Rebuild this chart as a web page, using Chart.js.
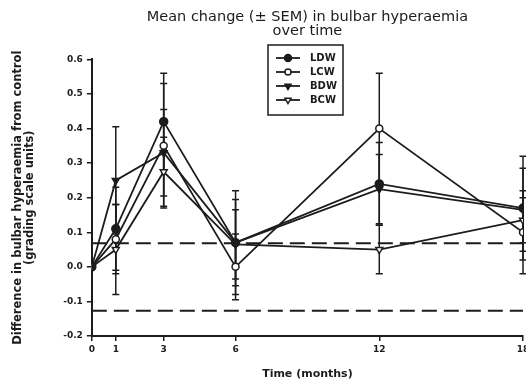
<!DOCTYPE html>
<html>
<head>
<meta charset="utf-8">
<script src="https://cdn.jsdelivr.net/npm/chart.js@4.4.0/dist/chart.umd.min.js"></script>
<style>
  html, body { margin: 0; padding: 0; background: #fff; overflow: hidden; }
  #c { display: block; }
</style>
</head>
<body>
<canvas id="c" width="540" height="383"></canvas>
<script>
// Follow-up times (months) and axis ticks
const months = [0, 1, 3, 6, 12, 18];
const xTicks = [0, 1, 3, 6, 12, 18];
const yMin = -0.2, yMax = 0.6, yStep = 0.1;

// Mean change from control per group, with SEM
const seriesNames = ['LDW', 'LCW', 'BDW', 'BCW'];
const ldw    = [0, 0.11, 0.42, 0.07, 0.24, 0.17];
const ldwSem = [0, 0.12, 0.14, 0.15, 0.12, 0.15];
const lcw    = [0, 0.08, 0.35, 0.00, 0.40, 0.10];
const lcwSem = [0, 0.10, 0.18, 0.095, 0.16, 0.12];
const bdw    = [0, 0.25, 0.33, 0.07, 0.225, 0.165];
const bdwSem = [0, 0.155, 0.125, 0.125, 0.10, 0.12];
const bcw    = [0, 0.05, 0.275, 0.065, 0.05, 0.135];
const bcwSem = [0, 0.13, 0.10, 0.10, 0.07, 0.065];

// Horizontal dashed reference levels
const upperRef = 0.068;
const lowerRef = -0.127;

const INK = '#1c1c1c';
const FACE = '"DejaVu Sans", Verdana, sans-serif';
const toPts = vals => months.map((m, i) => ({ x: m, y: vals[i] }));

function groupSet(label, vals, sem, style, filled) {
  return {
    label, data: toPts(vals), sem,
    borderColor: INK, borderWidth: 1.8,
    pointStyle: style, pointRotation: style === 'triangle' ? 180 : 0,
    pointRadius: style === 'triangle' ? 4 : (filled ? 4 : 3.5),
    pointBorderWidth: 1.5,
    pointBorderColor: INK,
    pointBackgroundColor: filled ? INK : '#fff',
    showLine: true, tension: 0, order: 1
  };
}
function refSet(level) {
  return {
    label: '', isRef: true,
    data: [{ x: months[0], y: level }, { x: months[months.length - 1], y: level }],
    borderColor: INK, borderWidth: 2, borderDash: [15, 7],
    pointRadius: 0, showLine: true, order: 2
  };
}

// SEM whiskers, drawn beneath the lines and markers
const errorBars = {
  id: 'errorBars',
  beforeDatasetsDraw(chart) {
    const { ctx, scales: { x, y } } = chart;
    ctx.save();
    ctx.strokeStyle = INK;
    ctx.lineWidth = 1.5;
    chart.data.datasets.forEach(ds => {
      if (!ds.sem) return;
      ds.data.forEach((p, i) => {
        const s = ds.sem[i];
        if (!s) return;
        const px = x.getPixelForValue(p.x);
        const top = y.getPixelForValue(p.y + s);
        const bot = y.getPixelForValue(p.y - s);
        ctx.beginPath();
        ctx.moveTo(px, top); ctx.lineTo(px, bot);
        ctx.moveTo(px - 3.5, top); ctx.lineTo(px + 3.5, top);
        ctx.moveTo(px - 3.5, bot); ctx.lineTo(px + 3.5, bot);
        ctx.stroke();
      });
    });
    ctx.restore();
  }
};

// Boxed key placed inside the plot
const boxedKey = {
  id: 'boxedKey',
  afterDraw(chart) {
    const { ctx } = chart;
    const left = 268, top = 45, w = 75, h = 70, row = 14;
    ctx.save();
    ctx.strokeStyle = INK;
    ctx.lineWidth = 1.5;
    ctx.fillStyle = '#fff';
    ctx.fillRect(left, top, w, h);
    ctx.strokeRect(left, top, w, h);
    ctx.font = 'bold 10px ' + FACE;
    ctx.textBaseline = 'middle';
    chart.data.datasets.filter(d => d.sem).forEach((ds, i) => {
      const cy = top + 13 + i * row;
      ctx.beginPath();
      ctx.lineWidth = 1.8;
      ctx.moveTo(left + 8, cy); ctx.lineTo(left + 32, cy);
      ctx.stroke();
      ctx.fillStyle = ds.pointBackgroundColor;
      ctx.lineWidth = 1.5;
      Chart.helpers.drawPoint(ctx, {
        pointStyle: ds.pointStyle, rotation: ds.pointRotation,
        radius: ds.pointRadius - 0.5, borderWidth: 1.5
      }, left + 20, cy);
      ctx.fillStyle = INK;
      ctx.fillText(ds.label, left + 42, cy + 0.5);
    });
    ctx.restore();
  }
};

new Chart(document.getElementById('c'), {
  type: 'scatter',
  data: {
    datasets: [
      groupSet(seriesNames[0], ldw, ldwSem, 'circle', true),
      groupSet(seriesNames[1], lcw, lcwSem, 'circle', false),
      groupSet(seriesNames[2], bdw, bdwSem, 'triangle', true),
      groupSet(seriesNames[3], bcw, bcwSem, 'triangle', false),
      refSet(upperRef),
      refSet(lowerRef)
    ]
  },
  options: {
    responsive: false,
    animation: false,
    devicePixelRatio: 1,
    layout: { padding: { left: 12, right: 17, top: 0, bottom: 2 } },
    plugins: {
      legend: { display: false },
      tooltip: { enabled: false },
      title: {
        display: true,
        fullSize: false,
        text: ['Mean change (\u00B1 SEM) in bulbar hyperaemia', 'over time'],
        color: INK,
        font: { family: FACE, size: 14.5, weight: 'normal', lineHeight: 0.98 },
        padding: { top: 10, bottom: 21 }
      }
    },
    scales: {
      x: {
        type: 'linear', min: 0, max: 18,
        afterBuildTicks: s => { s.ticks = xTicks.map(v => ({ value: v })); },
        grid: { drawOnChartArea: false, drawTicks: true, tickLength: 5, color: INK, lineWidth: 1.5 },
        border: { display: true, color: INK, width: 2 },
        ticks: { color: INK, padding: 3, maxRotation: 0,
                 font: { family: FACE, size: 9, weight: 'bold' } },
        title: { display: true, text: 'Time (months)', color: INK, padding: { top: 10, bottom: 0 },
                 font: { family: FACE, size: 11, weight: 'bold' } }
      },
      y: {
        min: yMin, max: yMax,
        grid: { drawOnChartArea: false, drawTicks: true, tickLength: 5, color: INK, lineWidth: 1.5 },
        border: { display: true, color: INK, width: 2 },
        ticks: { stepSize: yStep, color: INK, padding: 4,
                 callback: v => Number(v).toFixed(1),
                 font: { family: FACE, size: 9, weight: 'bold' } },
        title: { display: true,
                 text: ['Difference in bulbar hyperaemia from control', '(grading scale units)'],
                 color: INK, padding: { top: 0, bottom: 23 },
                 font: { family: FACE, size: 11.5, weight: 'bold', lineHeight: 1.05 } }
      }
    }
  },
  plugins: [errorBars, boxedKey]
});
</script>
</body>
</html>
